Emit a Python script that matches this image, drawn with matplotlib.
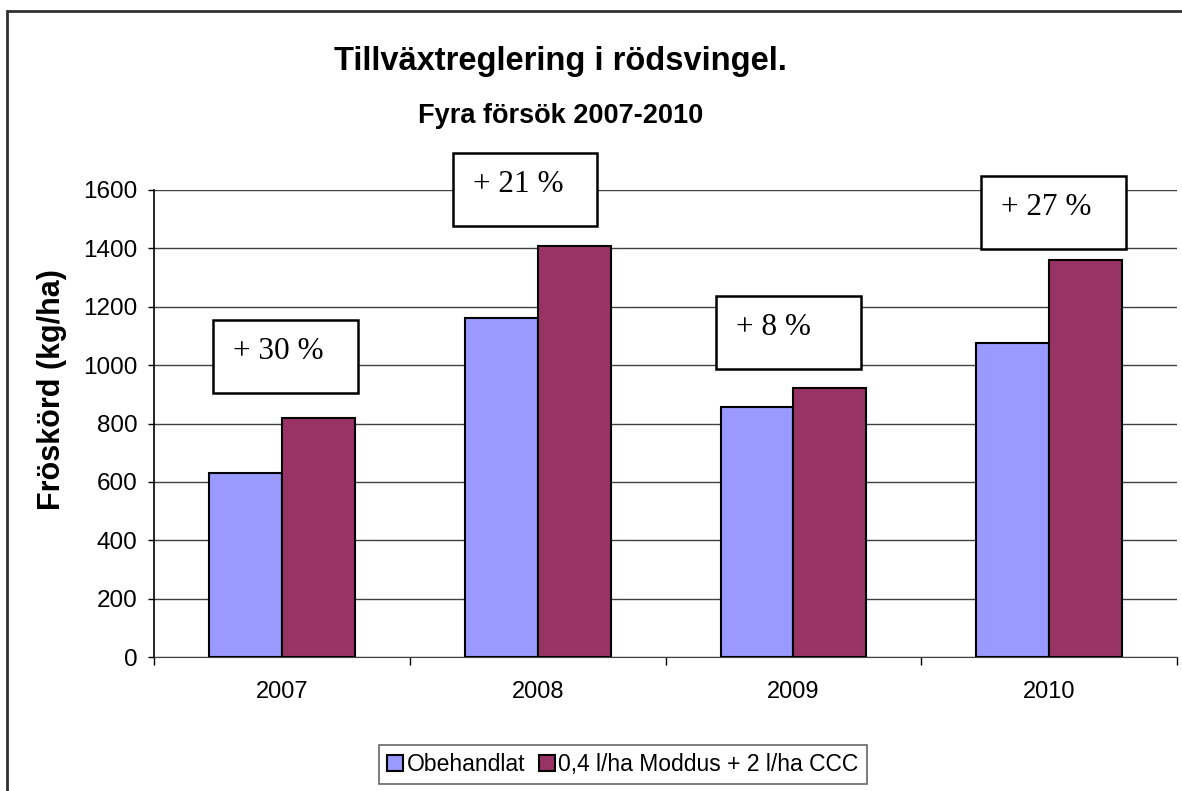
import numpy as np
import matplotlib
matplotlib.use("Agg")
import matplotlib.pyplot as plt
from matplotlib.patches import Rectangle

years = ["2007", "2008", "2009", "2010"]
obehandlat = [629, 1162, 855, 1077]
moddus_ccc = [820, 1408, 923, 1361]
series_names = ["Obehandlat", "0,4 l/ha Moddus + 2 l/ha CCC"]
increase_labels = ["+ 30 %", "+ 21 %", "+ 8 %", "+ 27 %"]

# annotation box corners (left x, top y) in data units
box_left = [-0.27, 0.668, 1.699, 2.734]
box_top = [1156, 1726, 1238, 1648]

plt.rcParams['font.family'] = ['Liberation Sans', 'DejaVu Sans']

fig = plt.figure(figsize=(11.82, 7.91), dpi=100)
ax = fig.add_axes([0.1303, 0.1694, 0.8655, 0.5904])

x = np.arange(len(years))
w = 0.285
ax.bar(x - w / 2, obehandlat, w, color='#9999FF', edgecolor='black', linewidth=1.5,
       label=series_names[0], zorder=3)
ax.bar(x + w / 2, moddus_ccc, w, color='#993366', edgecolor='black', linewidth=1.5,
       label=series_names[1], zorder=3)

ax.set_xlim(-0.5, len(years) - 0.5)
ax.set_ylim(0, 1600)
ax.set_yticks(np.arange(0, 1601, 200))
ax.tick_params(axis='y', labelsize=17.5, length=4, width=1, pad=8, direction='out')
ax.set_xticks(x)
ax.set_xticklabels(years)
ax.tick_params(axis='x', which='major', length=0, labelsize=17, pad=17)
ax.set_xticks(np.arange(-0.5, len(years), 1.0), minor=True)
ax.tick_params(axis='x', which='minor', length=6, width=1, direction='out')
ax.grid(axis='y', color='#404040', linewidth=1, zorder=0)

for side in ['top', 'right']:
    ax.spines[side].set_visible(False)
ax.spines['left'].set_linewidth(1.2)
ax.spines['bottom'].set_color('#404040')

# percentage boxes
for lbl, bl, bt in zip(increase_labels, box_left, box_top):
    rect = Rectangle((bl, bt - 250), 0.566, 250, facecolor='white', edgecolor='black',
                     linewidth=1.8, zorder=5, clip_on=False)
    ax.add_patch(rect)
    ax.text(bl + 0.078, bt - 108, lbl, family='Liberation Serif', fontsize=22.5,
            ha='left', va='center', zorder=6, clip_on=False)

fig.text(0.474, 0.9115, "Tillväxtreglering i rödsvingel.", fontsize=23.5, fontweight='bold',
         ha='center', va='baseline')
fig.text(0.474, 0.8445, "Fyra försök 2007-2010", fontsize=19.5, fontweight='bold',
         ha='center', va='baseline')
fig.text(0.044, 0.507, "Fröskörd (kg/ha)", fontsize=22, fontweight='bold',
         rotation=90, ha='center', va='center')

leg = fig.legend(loc='center', bbox_to_anchor=(0.527, 0.0335), ncol=2, fontsize=16.5,
                 frameon=True, fancybox=False, handlelength=0.7, handleheight=0.7,
                 handletextpad=0.15, columnspacing=0.6, borderpad=0.35)
leg.get_frame().set_edgecolor('#404040')
leg.get_frame().set_linewidth(1.2)

# outer chart frame
frame = Rectangle((7 / 1182, -0.1), 1.2, 1 - 11 / 791 + 0.1, transform=fig.transFigure,
                  facecolor='none', edgecolor='#303030', linewidth=2, clip_on=False)
fig.patches.append(frame)

fig.savefig("out.png", dpi=100)
